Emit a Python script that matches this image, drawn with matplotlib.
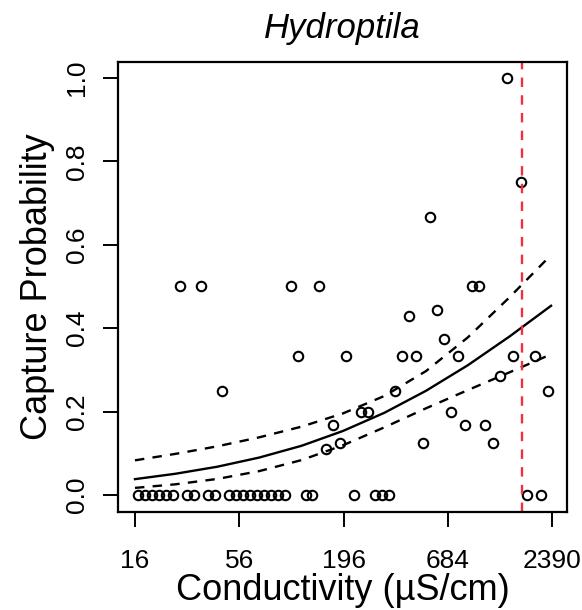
import matplotlib
matplotlib.use("Agg")
import matplotlib.pyplot as plt
from matplotlib.ticker import FixedLocator, NullLocator, FixedFormatter

plt.rcParams['font.family'] = ['Liberation Sans', 'DejaVu Sans']

# Observed capture probabilities (conductivity in uS/cm)
zero_cond = [16.65, 18.11, 19.70, 21.42, 23.30, 25.34, 29.98, 32.61, 38.58, 41.96,
             49.63, 53.99, 58.73, 63.88, 69.48, 75.57, 82.20, 89.40, 97.24, 124.2,
             134.5, 221.9, 285.5, 310.5, 337.7, 1777, 2095]
pos_cond = [27.47, 35.34, 45.47, 104.1, 113.7, 145.7, 158.5, 173.0, 186.9, 201.5,
            240.4, 261.5, 364.3, 396.3, 429.3, 468.7, 509.8, 552.5, 601.0, 653.7,
            711.0, 770.6, 838.2, 911.6, 995.0, 1073, 1173, 1275, 1387, 1502,
            1642, 1942, 2287]
pos_prob = [0.5, 0.5, 0.25, 0.5, 0.3333, 0.5, 0.1111, 0.1667, 0.125, 0.3333,
            0.2, 0.2, 0.25, 0.3333, 0.4286, 0.3333, 0.125, 0.6667, 0.4444, 0.375,
            0.2, 0.3333, 0.1667, 0.5, 0.5, 0.1667, 0.125, 0.2857, 1.0, 0.3333,
            0.75, 0.3333, 0.25]

# Fitted logistic curve with confidence band
curve_cond = [16, 26, 43, 71, 118, 194, 320, 527, 870, 1434, 2363]
fit_prob = [0.0380, 0.0509, 0.0678, 0.0897, 0.1179, 0.1534, 0.1973, 0.2500, 0.3112, 0.3800, 0.4538]
upper_prob = [0.0831, 0.0986, 0.1167, 0.1382, 0.1638, 0.1955, 0.2376, 0.2973, 0.3779, 0.4740, 0.5755]
lower_prob = [0.0170, 0.0256, 0.0385, 0.0572, 0.0836, 0.1191, 0.1624, 0.2080, 0.2516, 0.2941, 0.3374]

threshold = 1673

xtick_vals = [16, 56, 196, 684, 2390]
xtick_labels = ['16', '56', '196', '684', '2390']
ytick_vals = [0.0, 0.2, 0.4, 0.6, 0.8, 1.0]
ytick_labels = ['0.0', '0.2', '0.4', '0.6', '0.8', '1.0']

W, H = 582, 610
fig = plt.figure(figsize=(W / 100, H / 100), dpi=100)
ax = fig.add_axes([118 / W, 1 - 512 / H, (567 - 118) / W, (512 - 62) / H])
ax.set_xscale('log')

mk = dict(linestyle='none', marker='o', mfc='none', mec='black', ms=6.8, mew=1.5)
ax.plot(zero_cond, [0.0] * len(zero_cond), **mk)
ax.plot(pos_cond, pos_prob, **mk)

dash = (0, (4, 3.5))
ax.plot(curve_cond, fit_prob, color='black', lw=1.7)
ax.plot(curve_cond, upper_prob, color='black', lw=1.7, linestyle=dash)
ax.plot(curve_cond, lower_prob, color='black', lw=1.7, linestyle=dash)

ax.axvline(threshold, color='#F0303A', lw=1.7, linestyle=dash)

ax.set_xlim(13.05, 2861)
ax.set_ylim(-0.0408, 1.0384)

ax.xaxis.set_major_locator(FixedLocator(xtick_vals))
ax.xaxis.set_major_formatter(FixedFormatter(xtick_labels))
ax.xaxis.set_minor_locator(NullLocator())
ax.set_yticks(ytick_vals)
ax.set_yticklabels(ytick_labels, rotation=90, va='center')

ax.tick_params(axis='both', direction='out', length=11, width=1.4, labelsize=19, colors='black')
ax.tick_params(axis='x', pad=16)
ax.tick_params(axis='y', pad=10)

for s in ax.spines.values():
    s.set_linewidth(1.6)

ax.set_xlabel('Conductivity (µS/cm)', fontsize=26, labelpad=0)
ax.set_ylabel('Capture Probability', fontsize=26, labelpad=7)
ax.set_title('Hydroptila', fontsize=25, style='italic', pad=17)

fig.savefig('out.png', dpi=100)
